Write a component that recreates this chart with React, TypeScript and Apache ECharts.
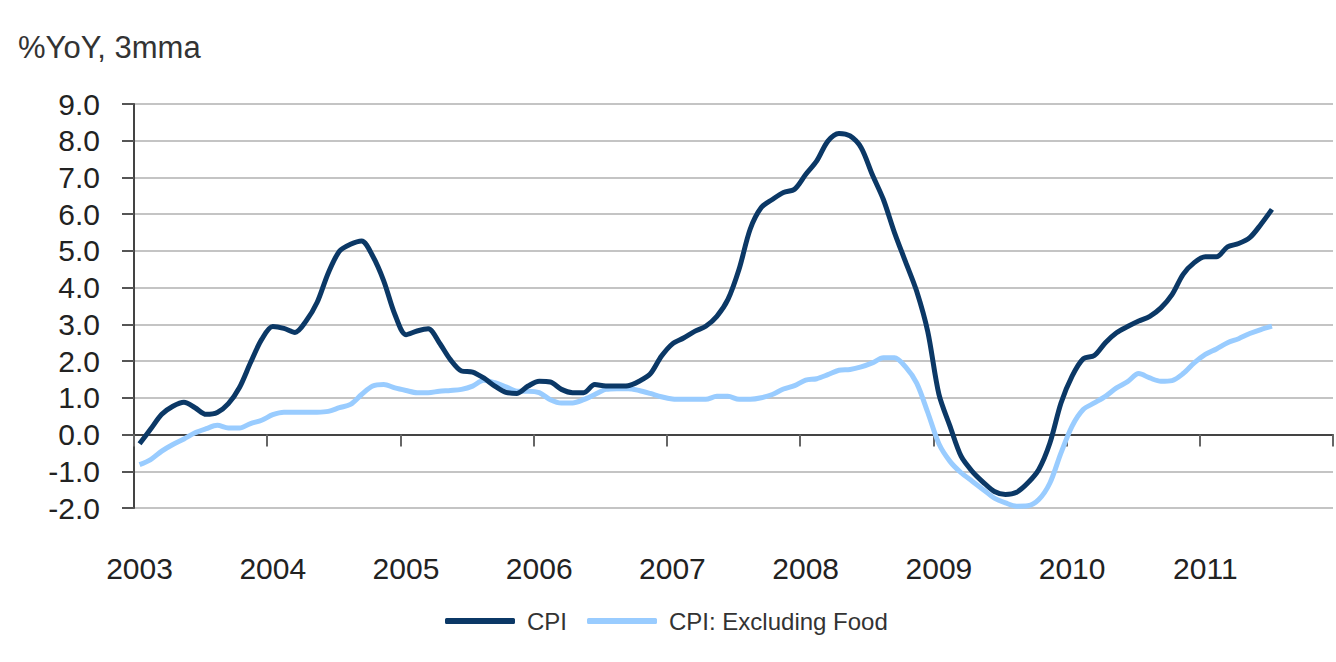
import React, { useEffect, useRef } from "react";
import * as echarts from "echarts";

const years = ["2003", "2004", "2005", "2006", "2007", "2008", "2009", "2010", "2011"];
const monthNames = ["Jan", "Feb", "Mar", "Apr", "May", "Jun", "Jul", "Aug", "Sep", "Oct", "Nov", "Dec"];
const yTicks = [-2, -1, 0, 1, 2, 3, 4, 5, 6, 7, 8, 9];

const cpi = [
  -0.25, 0.15, 0.55, 0.77, 0.88, 0.73, 0.55, 0.6, 0.84, 1.28, 1.96, 2.59,
  2.94, 2.89, 2.78, 3.09, 3.6, 4.4, 4.99, 5.18, 5.27, 4.86, 4.18, 3.27,
  2.72, 2.82, 2.88, 2.5, 2.04, 1.73, 1.7, 1.54, 1.32, 1.15, 1.12, 1.32,
  1.45, 1.43, 1.23, 1.14, 1.14, 1.36, 1.32, 1.32, 1.33, 1.45, 1.65, 2.13,
  2.47, 2.63, 2.81, 2.95, 3.22, 3.68, 4.5, 5.59, 6.18, 6.4, 6.59, 6.68,
  7.08, 7.45, 7.99, 8.2, 8.13, 7.81, 7.08, 6.4, 5.5, 4.7, 3.9, 2.8,
  1.1, 0.23, -0.59, -1.0, -1.3, -1.55, -1.63, -1.57, -1.32, -0.95, -0.23, 0.86,
  1.59, 2.06, 2.15, 2.5, 2.77, 2.94, 3.09, 3.22, 3.45, 3.81, 4.36, 4.68,
  4.84, 4.84, 5.11, 5.2, 5.36, 5.72, 6.13,
];

const cpiExFood = [
  -0.82, -0.68, -0.45, -0.27, -0.12, 0.05, 0.16, 0.25, 0.18, 0.18, 0.3, 0.39,
  0.54, 0.61, 0.61, 0.61, 0.61, 0.63, 0.73, 0.82, 1.09, 1.32, 1.36, 1.27,
  1.2, 1.14, 1.14, 1.18, 1.2, 1.23, 1.32, 1.48, 1.41, 1.3, 1.18, 1.18,
  1.14, 0.95, 0.86, 0.86, 0.95, 1.09, 1.23, 1.25, 1.25, 1.2, 1.12, 1.03,
  0.97, 0.96, 0.96, 0.96, 1.04, 1.04, 0.96, 0.96, 1.0, 1.09, 1.24, 1.33,
  1.48, 1.52, 1.63, 1.75, 1.77, 1.84, 1.95, 2.09, 2.09, 1.84, 1.4, 0.6,
  -0.25, -0.73, -1.04, -1.27, -1.5, -1.73, -1.86, -1.95, -1.94, -1.77, -1.32, -0.5,
  0.23, 0.68, 0.86, 1.04, 1.27, 1.44, 1.66, 1.54, 1.45, 1.47, 1.66, 1.95,
  2.18, 2.33, 2.5, 2.61, 2.75, 2.86, 2.95,
];

const seriesNames = ["CPI", "CPI: Excluding Food"];
const colors = ["#0b3866", "#99ccff"];
const FONT = "'Liberation Sans', Arial, sans-serif";

export default function App() {
  const ref = useRef<HTMLDivElement>(null);
  useEffect(() => {
    if (!ref.current) return;
    const chart = echarts.init(ref.current, undefined, { renderer: "svg" });
    const categories: string[] = [];
    years.forEach((y) => monthNames.forEach((m) => categories.push(m + " " + y)));
    const isYearStart = (idx: number) => idx % 12 === 0;
    chart.setOption({
      animation: false,
      backgroundColor: "#ffffff",
      title: {
        text: "%YoY, 3mma",
        left: 13,
        top: 27,
        textStyle: { fontFamily: FONT, fontSize: 31, fontWeight: "normal", color: "#333" },
      },
      legend: {
        data: seriesNames,
        left: 440,
        top: 604,
        itemWidth: 70,
        itemHeight: 6,
        itemGap: 20,
        icon: "roundRect",
        textStyle: { fontFamily: FONT, fontSize: 24, color: "#333", padding: [0, 0, 0, 7] },
      },
      grid: { left: 134, right: 3, top: 104, bottom: 154 },
      xAxis: [
        {
          type: "category",
          data: categories,
          boundaryGap: true,
          axisLine: { onZero: true, lineStyle: { color: "#444", width: 2 } },
          axisTick: {
            show: true,
            interval: (idx: number) => isYearStart(idx),
            length: 12,
            lineStyle: { color: "#666", width: 2 },
          },
          axisLabel: { show: false },
          splitLine: { show: false },
        },
        {
          type: "category",
          data: categories,
          boundaryGap: true,
          position: "bottom",
          axisLine: { show: false, onZero: false },
          axisTick: { show: false },
          axisLabel: {
            interval: (idx: number) => isYearStart(idx),
            formatter: (v: string) => v.split(" ")[1],
            margin: 45,
            fontFamily: FONT,
            fontSize: 30,
            color: "#222",
          },
          splitLine: { show: false },
        },
      ],
      yAxis: {
        type: "value",
        min: yTicks[0],
        max: yTicks[yTicks.length - 1],
        interval: 1,
        axisLine: { show: true, lineStyle: { color: "#444", width: 2 } },
        axisTick: { show: true, length: 12, lineStyle: { color: "#555", width: 2 } },
        axisLabel: {
          formatter: (v: number) => v.toFixed(1),
          margin: 34,
          fontFamily: FONT,
          fontSize: 30,
          color: "#222",
          padding: [0, 0, 10, 0],
        },
        splitLine: { show: true, lineStyle: { color: "#c4c4c4", width: 2 } },
      },
      series: [
        {
          name: seriesNames[0],
          type: "line",
          xAxisIndex: 0,
          data: cpi,
          smooth: 0.3,
          showSymbol: false,
          symbol: "none",
          lineStyle: { color: colors[0], width: 5 },
          itemStyle: { color: colors[0] },
          z: 3,
        },
        {
          name: seriesNames[1],
          type: "line",
          xAxisIndex: 0,
          data: cpiExFood,
          smooth: 0.3,
          showSymbol: false,
          symbol: "none",
          lineStyle: { color: colors[1], width: 5 },
          itemStyle: { color: colors[1] },
          z: 2,
        },
      ],
    });
    return () => chart.dispose();
  }, []);
  return (
    <div
      ref={ref}
      style={{ position: "fixed", left: 0, top: 0, width: 1336, height: 662, background: "#fff" }}
    />
  );
}
